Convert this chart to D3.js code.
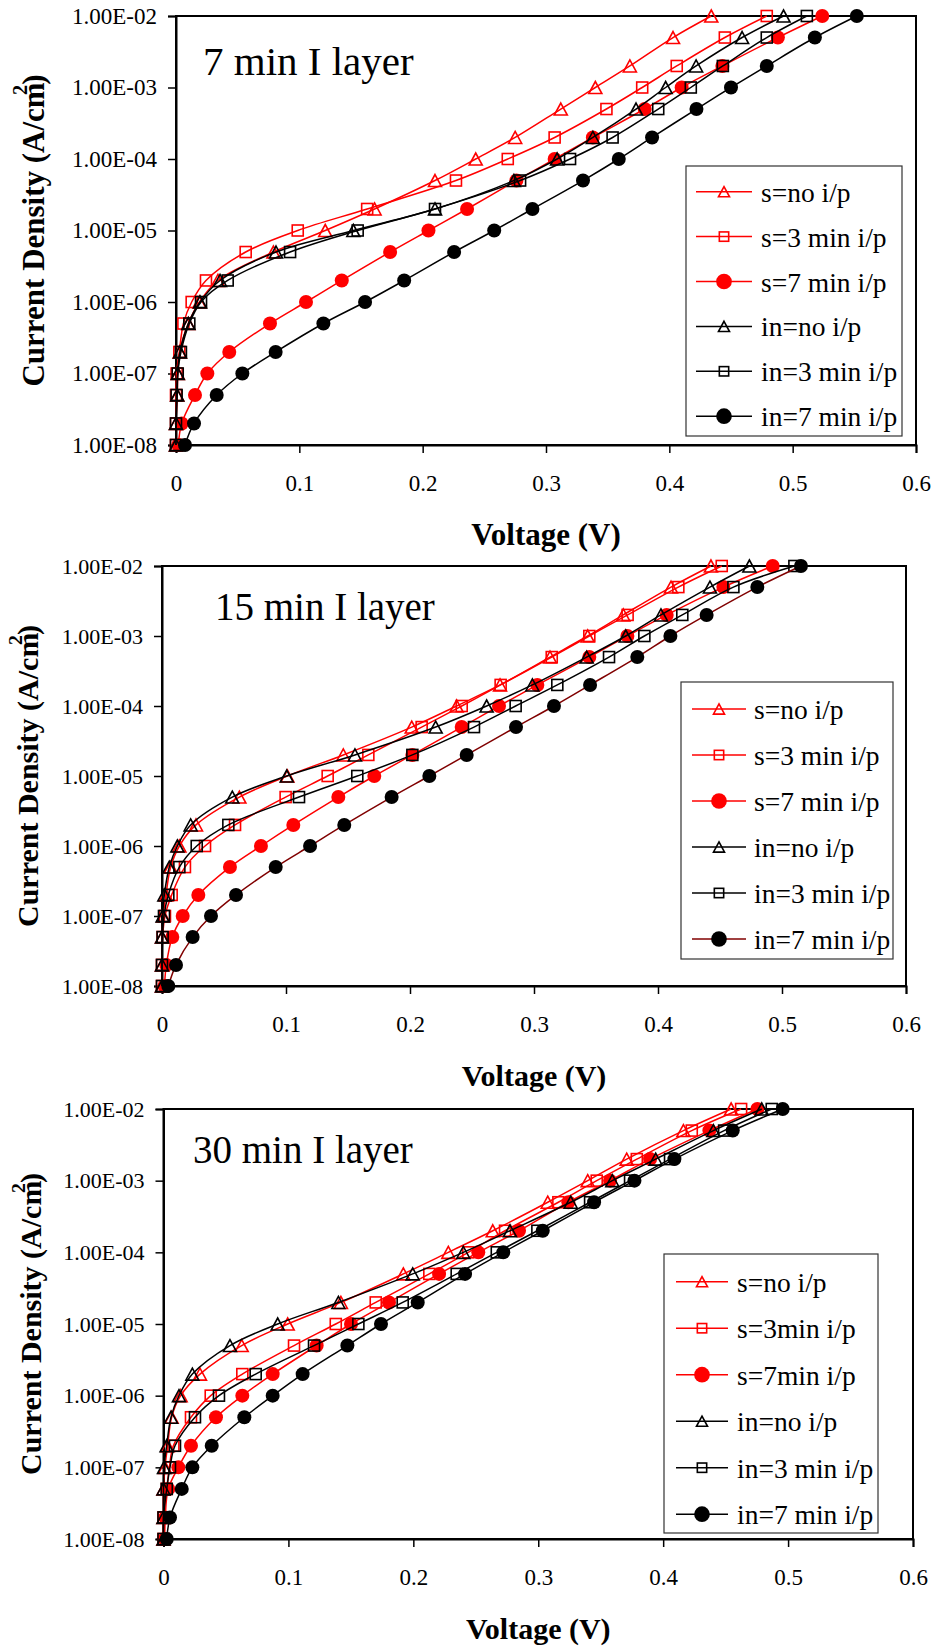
<!DOCTYPE html>
<html>
<head>
<meta charset="utf-8">
<script src="https://cdn.jsdelivr.net/npm/d3@7"></script>
<style>
  body { margin: 0; background: #fff; }
  svg text { font-family: "Liberation Serif", "Times New Roman", Times, serif; fill: #000; }
</style>
</head>
<body>
<svg id="chart" width="938" height="1647"></svg>
<script>
// Current density levels (A/cm^2) at which each voltage was recorded
const currentDensity = [1e-8, 2e-8, 5e-8, 1e-7, 2e-7, 5e-7, 1e-6, 2e-6, 5e-6, 1e-5,
                        2e-5, 5e-5, 1e-4, 2e-4, 5e-4, 1e-3, 2e-3, 5e-3, 1e-2];

const yTickValues = [1e-8, 1e-7, 1e-6, 1e-5, 1e-4, 1e-3, 1e-2];
const yTickLabels = ["1.00E-08", "1.00E-07", "1.00E-06", "1.00E-05", "1.00E-04", "1.00E-03", "1.00E-02"];
const xTickValues = [0, 0.1, 0.2, 0.3, 0.4, 0.5, 0.6];
const xTickLabels = ["0", "0.1", "0.2", "0.3", "0.4", "0.5", "0.6"];

const panelTitles = ["7 min I layer", "15 min I layer", "30 min I layer"];
const legendLabelsA = ["s=no i/p", "s=3 min i/p", "s=7 min i/p", "in=no i/p", "in=3 min i/p", "in=7 min i/p"];
const legendLabelsB = ["s=no i/p", "s=3min i/p", "s=7min i/p", "in=no i/p", "in=3 min i/p", "in=7 min i/p"];

// Voltage (V) per current level — 7 min I layer
const v7_sNo  = [0, 0, 0.001, 0.0015, 0.003, 0.010, 0.019, 0.034, 0.079, 0.121, 0.161, 0.210, 0.243, 0.275, 0.312, 0.340, 0.368, 0.403, 0.434];
const v7_s3   = [0, 0, 0, 0.0005, 0.0027, 0.006, 0.0127, 0.0243, 0.0565, 0.0987, 0.155, 0.227, 0.269, 0.307, 0.349, 0.378, 0.406, 0.445, 0.479];
const v7_s7   = [0.0019, 0.0046, 0.0154, 0.0254, 0.0432, 0.0762, 0.1054, 0.1344, 0.1736, 0.2047, 0.236, 0.276, 0.307, 0.338, 0.380, 0.410, 0.443, 0.488, 0.524];
const v7_inNo = [0, 0, 0.001, 0.0014, 0.0032, 0.010, 0.0195, 0.0357, 0.0811, 0.1438, 0.210, 0.274, 0.309, 0.338, 0.373, 0.397, 0.4217, 0.459, 0.4926];
const v7_in3  = [0, 0, 0.0005, 0.0014, 0.004, 0.0108, 0.0203, 0.0419, 0.0925, 0.1473, 0.210, 0.279, 0.3195, 0.354, 0.391, 0.4174, 0.4434, 0.479, 0.5115];
const v7_in7  = [0.0073, 0.0146, 0.033, 0.0538, 0.0808, 0.1195, 0.1533, 0.185, 0.2255, 0.258, 0.289, 0.330, 0.359, 0.386, 0.422, 0.450, 0.479, 0.518, 0.552];

// Voltage (V) per current level — 15 min I layer
const v15_sNo  = [0, 0, 0, 0.001, 0.0032, 0.007, 0.014, 0.0274, 0.0624, 0.1011, 0.1462, 0.2014, 0.2376, 0.2726, 0.3129, 0.3433, 0.372, 0.4105, 0.4427];
const v15_s3   = [0, 0, 0.0005, 0.0024, 0.0078, 0.0185, 0.0347, 0.0589, 0.0997, 0.1336, 0.1664, 0.2094, 0.2417, 0.2731, 0.3143, 0.3446, 0.3755, 0.4164, 0.4514];
const v15_s7   = [0.002, 0.0035, 0.0083, 0.0167, 0.0293, 0.0548, 0.0798, 0.1059, 0.1422, 0.1712, 0.2019, 0.2417, 0.2718, 0.3027, 0.3446, 0.3753, 0.407, 0.4527, 0.4925];
const v15_inNo = [0, 0, 0, 0.0005, 0.0019, 0.0059, 0.0124, 0.0231, 0.0567, 0.1006, 0.1556, 0.2207, 0.2618, 0.2987, 0.3425, 0.374, 0.4024, 0.4419, 0.4737];
const v15_in3  = [0, 0, 0.0005, 0.0016, 0.0051, 0.014, 0.028, 0.0535, 0.1105, 0.1575, 0.2019, 0.2516, 0.2852, 0.3188, 0.3605, 0.389, 0.4196, 0.4608, 0.510];
const v15_in7  = [0.0051, 0.0113, 0.0247, 0.0395, 0.0597, 0.0917, 0.1194, 0.147, 0.1852, 0.2156, 0.2457, 0.2855, 0.3161, 0.3452, 0.3833, 0.410, 0.4392, 0.4801, 0.5153];

// Voltage (V) per current level — 30 min I layer
const v30_sNo  = [0, 0, 0, 0.0012, 0.0033, 0.0065, 0.0137, 0.0292, 0.0626, 0.0994, 0.142, 0.192, 0.228, 0.2636, 0.3076, 0.3396, 0.3708, 0.4162, 0.4544];
const v30_s3   = [0, 0, 0.0026, 0.0047, 0.0079, 0.022, 0.0378, 0.0631, 0.1045, 0.1379, 0.1699, 0.2128, 0.244, 0.2734, 0.3161, 0.3468, 0.3789, 0.4229, 0.4624];
const v30_s7   = [0.001, 0.0014, 0.0038, 0.0119, 0.022, 0.042, 0.0631, 0.0874, 0.1226, 0.1501, 0.1805, 0.2206, 0.252, 0.2846, 0.3241, 0.3575, 0.3895, 0.437, 0.4754];
const v30_inNo = [0, 0, 0, 0.0004, 0.0025, 0.006, 0.0124, 0.0231, 0.0532, 0.0914, 0.14, 0.1995, 0.24, 0.2774, 0.326, 0.3593, 0.394, 0.4402, 0.4789];
const v30_in3  = [0, 0, 0.0026, 0.0052, 0.0092, 0.0252, 0.0444, 0.0738, 0.1205, 0.156, 0.1915, 0.2347, 0.2668, 0.2993, 0.3415, 0.3735, 0.4055, 0.4488, 0.4869];
const v30_in7  = [0.0026, 0.0052, 0.0146, 0.0231, 0.0386, 0.0647, 0.0874, 0.1114, 0.1472, 0.1741, 0.2035, 0.2414, 0.272, 0.3036, 0.3447, 0.377, 0.409, 0.4557, 0.4957];

// Series styling shared by every panel (order = draw order = legend order)
const seriesStyle = [
  { color: "#ff0000", marker: "triangle" },
  { color: "#ff0000", marker: "square" },
  { color: "#ff0000", marker: "circle" },
  { color: "#000000", marker: "triangle" },
  { color: "#000000", marker: "square" },
  { color: "#000000", marker: "circle" }
];

const panels = [
  {
    title: panelTitles[0], series: [v7_sNo, v7_s3, v7_s7, v7_inNo, v7_in3, v7_in7], labels: legendLabelsA,
    box: { left: 176, right: 916, top: 16, bottom: 445 },
    titleAt: [203, 75], titleSize: 41, yTickSize: 23, axisTitleSize: 31, yTitleX: 44,
    legend: { x: 686, y: 166, w: 216, h: 270, row0: 191.7, step: 44.9, x1: 696, x2: 752, tx: 761 },
    lastLine: "#000000"
  },
  {
    title: panelTitles[1], series: [v15_sNo, v15_s3, v15_s7, v15_inNo, v15_in3, v15_in7], labels: legendLabelsA,
    box: { left: 162, right: 906, top: 566, bottom: 986 },
    titleAt: [215, 620], titleSize: 39, yTickSize: 22, axisTitleSize: 30, yTitleX: 38,
    legend: { x: 681, y: 682, w: 212, h: 277, row0: 709, step: 46, x1: 692, x2: 746, tx: 754 },
    lastLine: "#800000"
  },
  {
    title: panelTitles[2], series: [v30_sNo, v30_s3, v30_s7, v30_inNo, v30_in3, v30_in7], labels: legendLabelsB,
    box: { left: 163.5, right: 913, top: 1109, bottom: 1539 },
    titleAt: [193, 1163], titleSize: 39, yTickSize: 22, axisTitleSize: 30, yTitleX: 41,
    legend: { x: 664, y: 1254, w: 214, h: 279, row0: 1281.7, step: 46.5, x1: 676, x2: 728, tx: 737 },
    lastLine: "#000000"
  }
];

const svg = d3.select("#chart");
svg.append("rect").attr("width", 938).attr("height", 1647).attr("fill", "#fff");

function drawMarker(g, type, color, cx, cy, k) {
  if (type === "triangle") {
    const w = 6.5 * k, h = 6 * k;
    g.append("path")
      .attr("d", `M${cx},${cy - h}L${cx + w},${cy + h}L${cx - w},${cy + h}Z`)
      .attr("fill", "none").attr("stroke", color).attr("stroke-width", 1.6);
  } else if (type === "square") {
    const s = 5.5 * k;
    g.append("rect").attr("x", cx - s).attr("y", cy - s).attr("width", 2 * s).attr("height", 2 * s)
      .attr("fill", "none").attr("stroke", color).attr("stroke-width", 1.6);
  } else {
    g.append("circle").attr("cx", cx).attr("cy", cy).attr("r", 7 * k).attr("fill", color);
  }
}

panels.forEach(p => {
  const b = p.box;
  const x = d3.scaleLinear().domain([0, 0.6]).range([b.left, b.right]);
  const y = d3.scaleLog().domain([1e-8, 1e-2]).range([b.bottom, b.top]);
  const g = svg.append("g");

  // plot frame
  g.append("rect").attr("x", b.left).attr("y", b.top)
    .attr("width", b.right - b.left).attr("height", b.bottom - b.top)
    .attr("fill", "none").attr("stroke", "#000").attr("stroke-width", 2);

  // y axis (log scale, outside ticks)
  const yAxis = d3.axisLeft(y).tickValues(yTickValues)
    .tickFormat((d, i) => yTickLabels[i]).tickSize(8).tickPadding(11);
  const ya = g.append("g").attr("transform", `translate(${b.left},0)`).call(yAxis);
  ya.select(".domain").attr("stroke", "#000").attr("stroke-width", 2);
  ya.selectAll(".tick line").attr("stroke", "#000").attr("stroke-width", 1.5);
  ya.selectAll(".tick text").attr("font-size", p.yTickSize).attr("font-family", "Liberation Serif").attr("fill", "#000");

  // x axis
  const xAxis = d3.axisBottom(x).tickValues(xTickValues)
    .tickFormat((d, i) => xTickLabels[i]).tickSize(8).tickPadding(22);
  const xa = g.append("g").attr("transform", `translate(0,${b.bottom})`).call(xAxis);
  xa.select(".domain").attr("stroke", "#000").attr("stroke-width", 2);
  xa.selectAll(".tick line").attr("stroke", "#000").attr("stroke-width", 1.5);
  xa.selectAll(".tick text").attr("font-size", 23).attr("font-family", "Liberation Serif").attr("fill", "#000");

  // axis titles
  g.append("text").attr("x", (b.left + b.right) / 2).attr("y", b.bottom + 100)
    .attr("text-anchor", "middle").attr("font-weight", "bold").attr("font-size", p.axisTitleSize)
    .text("Voltage (V)");

  const yt = g.append("text")
    .attr("transform", `translate(${p.yTitleX},${(b.top + b.bottom) / 2}) rotate(-90)`)
    .attr("text-anchor", "middle").attr("font-weight", "bold").attr("font-size", p.axisTitleSize);
  yt.append("tspan").text("Current Density (A/cm");
  yt.append("tspan").attr("font-size", p.axisTitleSize * 0.66).attr("dx", "-0.62em").attr("dy", -p.axisTitleSize * 0.55).text("2");
  yt.append("tspan").attr("dy", p.axisTitleSize * 0.55).text(")");

  // panel caption
  g.append("text").attr("x", p.titleAt[0]).attr("y", p.titleAt[1])
    .attr("font-size", p.titleSize).text(p.title);

  // data series: smoothed lines then markers
  const line = d3.line()
    .x(d => x(d.v)).y(d => y(d.j))
    .curve(d3.curveCatmullRom.alpha(0.5));

  p.series.forEach((vals, si) => {
    const st = seriesStyle[si];
    const pts = currentDensity.map((j, k) => ({ j, v: vals[k] }));
    const lineColor = si === 5 ? p.lastLine : st.color;
    const sg = g.append("g");
    sg.append("path").datum(pts).attr("d", line)
      .attr("fill", "none").attr("stroke", lineColor).attr("stroke-width", 1.5);
    pts.forEach(d => drawMarker(sg, st.marker, st.color, x(d.v), y(d.j), 1));
  });

  // legend
  const L = p.legend;
  const lg = g.append("g");
  lg.append("rect").attr("x", L.x).attr("y", L.y).attr("width", L.w).attr("height", L.h)
    .attr("fill", "#fff").attr("stroke", "#333").attr("stroke-width", 1.2);
  p.labels.forEach((lab, i) => {
    const st = seriesStyle[i];
    const cy = L.row0 + i * L.step;
    const lineColor = i === 5 ? p.lastLine : st.color;
    lg.append("line").attr("x1", L.x1).attr("x2", L.x2).attr("y1", cy).attr("y2", cy)
      .attr("stroke", lineColor).attr("stroke-width", 1.5);
    const k = st.marker === "circle" ? 1.12 : 0.85;
    drawMarker(lg, st.marker, st.color, (L.x1 + L.x2) / 2, cy, k);
    lg.append("text").attr("x", L.tx).attr("y", cy + 10).attr("font-size", 27.5).text(lab);
  });
});
</script>
</body>
</html>
